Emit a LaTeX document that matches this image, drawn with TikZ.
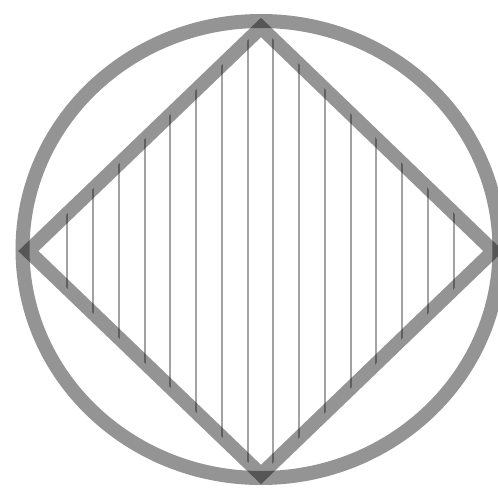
\documentclass[tikz,border=0pt]{standalone}
\usepackage{amsmath,amssymb}
\begin{document}
\begin{tikzpicture}[x=1pt,y=-1pt,
  ring/.style={draw=black,draw opacity=0.42,line width=14pt},
  rim/.style={draw=black,draw opacity=0.42,line width=14pt,line join=miter,miter limit=10},
  hatch/.style={draw=black,draw opacity=0.36,line width=2pt}]
  \useasboundingbox (0,0) rectangle (498,489);
  % centre of the ring, and the corners of the square
  \coordinate (c) at (261,249.5);
  \coordinate (top) at (261,27.5); \coordinate (bot) at (261,474.5);
  \coordinate (lft) at (28.3,251); \coordinate (rgt) at (493.3,251);
  % vertical hatching inside the square
  \begin{scope}
    \clip (top)--(rgt)--(bot)--(lft)--cycle;
    \foreach \k in {0,...,15}
      \draw[hatch] (260.5+25.76*\k-193.2,0) -- (260.5+25.76*\k-193.2,489);
  \end{scope}
  \draw[ring] (c) ellipse [x radius=238.5pt,y radius=228.5pt];
  \draw[rim] (top)--(rgt)--(bot)--(lft)--cycle;
\end{tikzpicture}
\end{document}
